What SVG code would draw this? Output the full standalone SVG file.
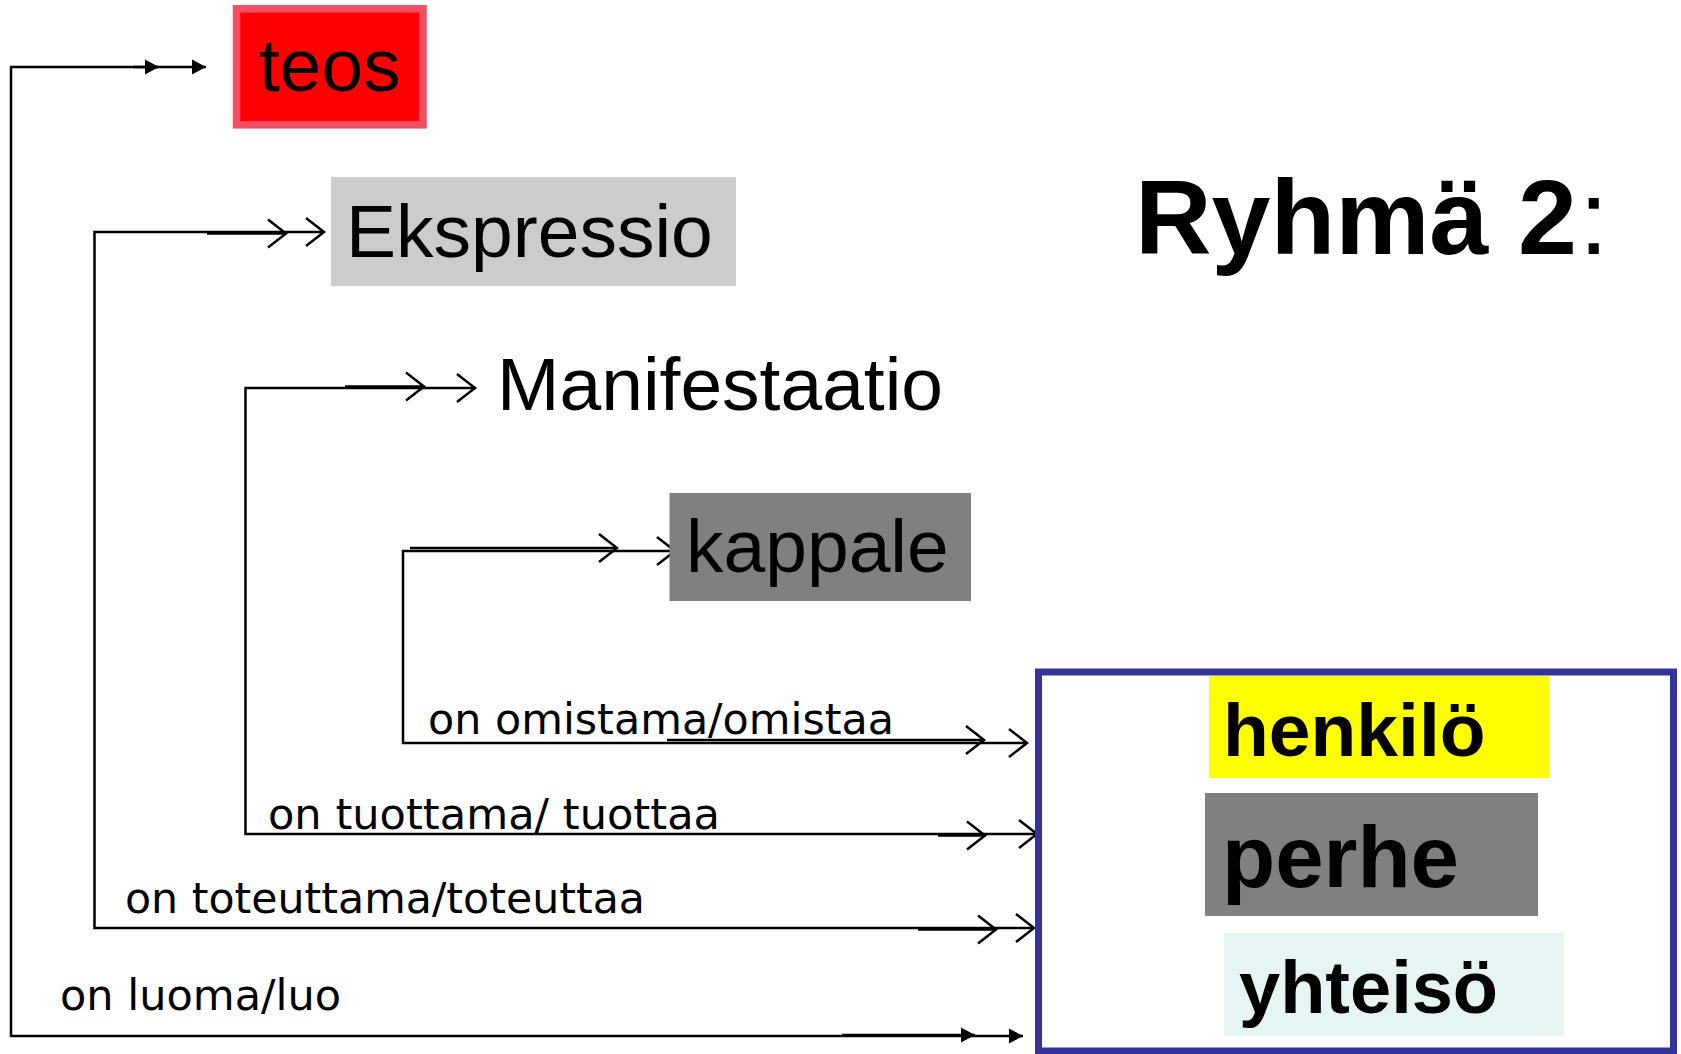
<svg xmlns="http://www.w3.org/2000/svg" width="1681" height="1054" viewBox="0 0 1681 1054">
  <style>
    .node { font-family: "Liberation Sans", Arial, sans-serif; fill: #000; }
    .big { font-size: 75px; }
    .bold { font-weight: bold; }
    .lbl { font-family: "DejaVu Sans", Verdana, sans-serif; font-size: 43px; fill: #000; }
    .conn { fill: none; stroke: #000; stroke-width: 2.5; }
  </style>
  <defs>
    <marker id="open" viewBox="-2 -2 24 34" markerWidth="24" markerHeight="34" refX="18" refY="15" orient="auto-start-reverse" markerUnits="userSpaceOnUse">
      <path d="M0,1 L18,15 L0,29" fill="none" stroke="#000" stroke-width="2.5"/>
    </marker>
    <marker id="filled" viewBox="0 0 14 16" markerWidth="14" markerHeight="16" refX="14" refY="8" orient="auto-start-reverse" markerUnits="userSpaceOnUse">
      <path d="M0,0.5 L14,8 L0,15.5 Z" fill="#000"/>
    </marker>
  </defs>
  <rect width="1681" height="1054" fill="#fff"/>

  <g id="title">
    <text class="node bold" x="1135" y="254" font-size="106">Ryhmä 2</text>
    <text class="node" x="1579" y="254" font-size="106">:</text>
  </g>

  <g id="connectors">
    <!-- teos / on luoma/luo -->
    <path class="conn" d="M1023,1036 L11,1036 L11,67 L206,67" marker-start="url(#filled)" marker-end="url(#filled)"/>
    <path class="conn" d="M133,67 L159,67" marker-end="url(#filled)"/>
    <path class="conn" d="M842,1035 L975,1035" marker-end="url(#filled)"/>
    <!-- Ekspressio / on toteuttama/toteuttaa -->
    <path class="conn" d="M1034,928 L94.5,928 L94.5,232 L324,232" marker-start="url(#open)" marker-end="url(#open)"/>
    <path class="conn" d="M207,233.5 L286,233.5" marker-end="url(#open)"/>
    <path class="conn" d="M918,929.5 L996,929.5" marker-end="url(#open)"/>
    <!-- Manifestaatio / on tuottama/ tuottaa -->
    <path class="conn" d="M1037,834 L245.5,834 L245.5,388 L475,388" marker-start="url(#open)" marker-end="url(#open)"/>
    <path class="conn" d="M345,386.5 L424,386.5" marker-end="url(#open)"/>
    <path class="conn" d="M938,835.5 L985,835.5" marker-end="url(#open)"/>
    <!-- kappale / on omistama/omistaa -->
    <path class="conn" d="M1027,743 L403,743 L403,551 L675,551" marker-start="url(#open)" marker-end="url(#open)"/>
    <path class="conn" d="M410,548 L617,548" marker-end="url(#open)"/>
    <path class="conn" d="M667,740 L984,740" marker-end="url(#open)"/>
  </g>

  <g id="labels">
    <text class="lbl" x="428" y="734" textLength="466" lengthAdjust="spacingAndGlyphs">on omistama/omistaa</text>
    <text class="lbl" x="268" y="829" textLength="452" lengthAdjust="spacingAndGlyphs">on tuottama/ tuottaa</text>
    <text class="lbl" x="125" y="913" textLength="520" lengthAdjust="spacingAndGlyphs">on toteuttama/toteuttaa</text>
    <text class="lbl" x="60" y="1010" textLength="281" lengthAdjust="spacingAndGlyphs">on luoma/luo</text>
  </g>

  <g id="teos">
    <rect x="236.5" y="8.8" width="186.5" height="116" fill="#ff0000" stroke="#f04e64" stroke-width="7.5"/>
    <text class="node big" x="259" y="91">teos</text>
  </g>

  <g id="ekspressio">
    <rect x="331" y="177" width="405" height="109" fill="#cccccc"/>
    <text class="node big" x="346" y="257">Ekspressio</text>
  </g>

  <g id="manifestaatio">
    <text class="node big" x="497" y="410">Manifestaatio</text>
  </g>

  <g id="kappale">
    <rect x="669.5" y="493" width="301.5" height="108" fill="#808080"/>
    <text class="node big" x="686" y="572">kappale</text>
  </g>

  <g id="toimijat">
    <rect x="1038.5" y="672" width="635" height="379" fill="#fff" stroke="#333399" stroke-width="7"/>
  </g>

  <g id="henkilo">
    <rect x="1209" y="676" width="340" height="102" fill="#ffff00"/>
    <text class="node bold" x="1223" y="756" font-size="75">henkilö</text>
  </g>

  <g id="perhe">
    <rect x="1205" y="793" width="333" height="123" fill="#808080"/>
    <text class="node bold" x="1222" y="887" font-size="88" textLength="237" lengthAdjust="spacingAndGlyphs">perhe</text>
  </g>

  <g id="yhteiso">
    <rect x="1224" y="933" width="340" height="103" fill="#e6f4f4"/>
    <text class="node bold" x="1239" y="1013" font-size="74">yhteisö</text>
  </g>
</svg>
